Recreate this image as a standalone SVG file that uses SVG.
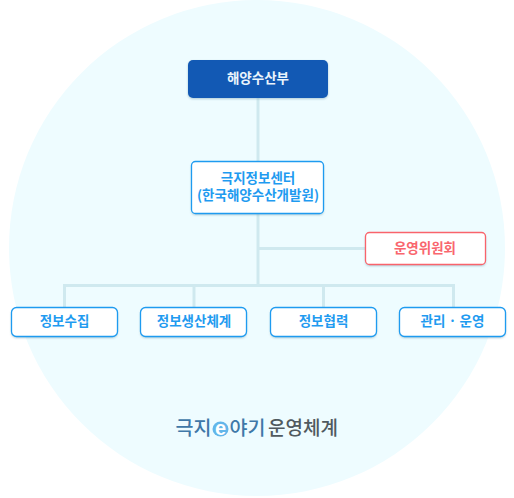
<svg xmlns="http://www.w3.org/2000/svg" width="514" height="498" viewBox="0 0 514 498">
<defs>
<style>
text{font-family:"Noto Sans CJK KR","Noto Sans",sans-serif;text-anchor:middle;font-weight:700}
.lbl{font-size:13.500px;fill:#1f9bf0}
.box{fill:#fff;stroke:#1e9bf0;stroke-width:1.300}
.shadow{fill:#7fa8ba;opacity:.6;filter:url(#soft)}
.conn{fill:none;stroke:#cfe9ef;stroke-width:3}
.ttl{font-weight:500}
</style>
<filter id="soft" x="-10%" y="-20%" width="120%" height="140%"><feGaussianBlur stdDeviation="0.800"/></filter>
</defs>
<rect width="514" height="498" fill="#fff"/>
<circle cx="257" cy="248" r="248" fill="#eefcff"/>
<g id="connectors">
<path class="conn" d="M258 97V162M258 213V248.500H366M258 248.500V285M64.500 307V285.500H453.500V307M194 285.500V307M323.500 285.500V307"/>
</g>
<g id="node-ministry">
<rect class="shadow" x="188" y="61" width="140" height="38" rx="5"/>
<rect x="188" y="60" width="140" height="38" rx="5" fill="#1259b4"/>
<text x="258" y="83" font-size="13.500" fill="#eaf4fc">해양수산부</text>
</g>
<g id="node-center">
<rect class="shadow" x="191.500" y="163" width="132" height="52" rx="4"/>
<rect class="box" x="191.500" y="161.500" width="132" height="52" rx="4"/>
<text class="lbl" x="258" y="183"><tspan x="258">극지정보센터</tspan><tspan x="258" dy="17">(한국해양수산개발원)</tspan></text>
</g>
<g id="node-committee">
<rect class="shadow" x="365.500" y="234" width="120" height="32" rx="4"/>
<rect x="365.500" y="232.500" width="120" height="32" rx="4" fill="#fff" stroke="#f9636b" stroke-width="1.300"/>
<text x="425" y="253" font-size="13.500" fill="#f9666e">운영위원회</text>
</g>
<g id="node-collect">
<rect class="shadow" x="11.500" y="309" width="106" height="29" rx="5"/>
<rect class="box" x="11.500" y="307.500" width="106" height="29" rx="5"/>
<text class="lbl" x="64.500" y="326">정보수집</text>
</g>
<g id="node-production">
<rect class="shadow" x="140.500" y="309" width="106" height="29" rx="5"/>
<rect class="box" x="140.500" y="307.500" width="106" height="29" rx="5"/>
<text class="lbl" x="194" y="326">정보생산체계</text>
</g>
<g id="node-cooperation">
<rect class="shadow" x="270.500" y="309" width="106" height="29" rx="5"/>
<rect class="box" x="270.500" y="307.500" width="106" height="29" rx="5"/>
<text class="lbl" x="323.500" y="326">정보협력</text>
</g>
<g id="node-operation">
<rect class="shadow" x="399.500" y="309" width="106" height="29" rx="5"/>
<rect class="box" x="399.500" y="307.500" width="106" height="29" rx="5"/>
<text class="lbl" x="452.500" y="326">관리 · 운영</text>
</g>
<g id="title">
<text class="ttl" x="193.500" y="435" font-size="19.500" fill="#3f78a8">극지</text>
<ellipse cx="220.500" cy="429" rx="8" ry="7.500" fill="#62b6ea"/>
<text x="220.500" y="435" font-size="20" fill="#fff" style="font-family:'Liberation Sans',sans-serif">e</text>
<text class="ttl" x="247.500" y="435" font-size="19.500" fill="#3f78a8">야기</text>
<text class="ttl" x="303" y="435" font-size="19" fill="#505a60">운영체계</text>
</g>
</svg>
